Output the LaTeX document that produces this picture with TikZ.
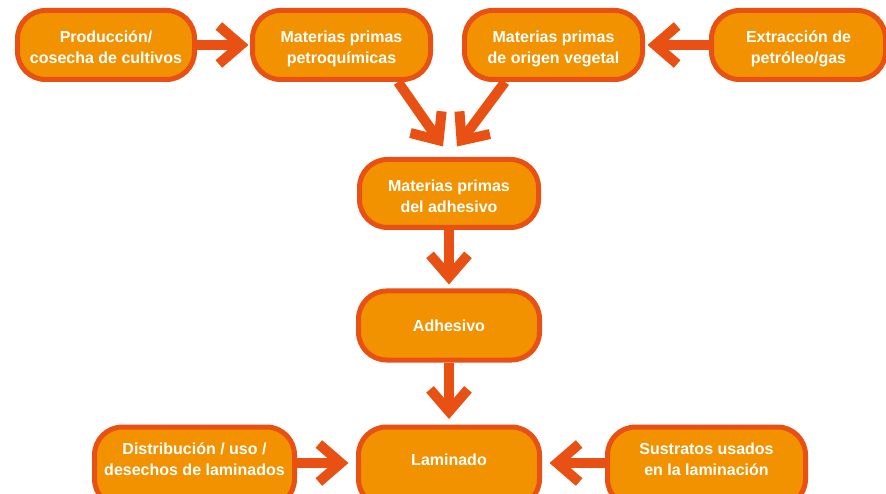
\documentclass[tikz,border=0pt]{standalone}
\usepackage{fontspec}
\setmainfont{Liberation Sans}
\usetikzlibrary{arrows.meta}
\definecolor{boxfill}{RGB}{242,146,0}
\definecolor{boxline}{RGB}{232,80,20}
\newcommand\twoline[2]{#1\rule{0pt}{22pt}\\#2\rule[-5pt]{0pt}{0pt}}
\newcommand\lowtwo[2]{#1\rule{0pt}{27pt}\\#2\rule[-32pt]{0pt}{0pt}}
\begin{document}
\begin{tikzpicture}[x=1pt,y=-1pt,
  box/.style={draw=boxline, fill=boxfill, line width=5pt, rounded corners=28pt,
    minimum height=69pt, text=white, align=center,
    font=\fontsize{16}{21}\selectfont\bfseries, inner sep=0pt},
  lowbox/.style={box, minimum height=0pt, anchor=north},
  flow/.style={draw=boxline, line width=10pt,
    -{Straight Barb[length=22pt,width=38pt]}}]
\useasboundingbox (0,0) rectangle (886,494);
\node[box, minimum width=177pt] (prod) at (106,45) {\twoline{Producción/}{cosecha de cultivos}};
\node[box, minimum width=178pt] (petro) at (341.5,45) {\twoline{Materias primas}{petroquímicas}};
\node[box, minimum width=178pt] (veg) at (553.5,45) {\twoline{Materias primas}{de origen vegetal}};
\node[box, minimum width=174pt] (ext) at (798.5,45) {\twoline{Extracción de}{petróleo/gas}};
\node[box, minimum width=179pt, minimum height=68pt] (mpa) at (449,193.5) {\twoline{Materias primas}{del adhesivo}};
\node[box, minimum width=181pt] (adh) at (449,325.5) {Adhesivo};
\node[lowbox, minimum width=181pt] (lam) at (449,424.5) {\rule[-42pt]{0pt}{80pt}Laminado};
\node[lowbox, minimum width=200pt] (dist) at (194.5,424.5) {\lowtwo{Distribución / uso /}{desechos de laminados}};
\node[lowbox, minimum width=198pt] (sus) at (706.5,424.5) {\lowtwo{Sustratos usados}{en la laminación}};
\draw[flow] (prod.east) -- ([xshift=-1.5pt]petro.west);
\draw[flow] (ext.west) -- ([xshift=2.5pt]veg.east);
\draw[flow] ([xshift=56.5pt]petro.south) -- ([xshift=-6pt,yshift=10.5pt]mpa.north);
\draw[flow] ([xshift=-48.5pt]veg.south) -- ([xshift=8pt,yshift=10.5pt]mpa.north);
\draw[flow] (mpa.south) -- ([yshift=4pt]adh.north);
\draw[flow] (adh.south) -- ([yshift=5.5pt]lam.north);
\draw[flow] ([yshift=4pt]dist.east) -- ([xshift=-7.5pt,yshift=4pt]lam.west);
\draw[flow] ([yshift=4pt]sus.west) -- ([xshift=7.5pt,yshift=4pt]lam.east);
\end{tikzpicture}
\end{document}
